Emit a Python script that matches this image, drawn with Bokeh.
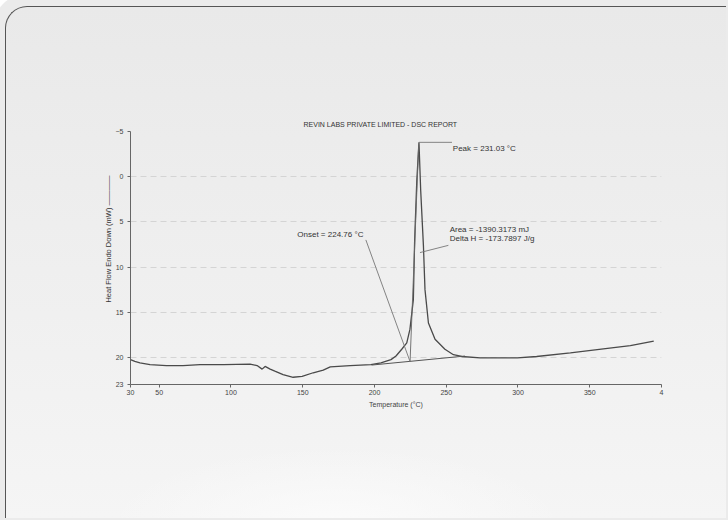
from bokeh.plotting import figure
from bokeh.models import Range1d, Label, FixedTicker, Title
from bokeh.embed import file_html
from bokeh.resources import INLINE

# ---- data ----
temp = [30, 33, 36.6, 43.6, 55, 66.6, 78.5, 95, 113.3, 118.2, 121.7, 123.8, 127.3, 131,
        136.3, 143.3, 149.6, 157.3, 164.3, 169.2, 183.1, 197.5, 204.5, 211.5, 215, 219,
        222.5, 224.7, 227.1, 228, 229.5, 231.0, 232.2, 234.1, 235.2, 237.6, 242.2, 249.1,
        255, 260.8, 273.7, 299.5, 313, 336.5, 359.5, 378.3, 394.6]
heat_flow = [20.25, 20.45, 20.6, 20.8, 20.9, 20.9, 20.8, 20.8, 20.75, 20.9, 21.3, 21.0, 21.3, 21.55,
             21.9, 22.2, 22.1, 21.7, 21.4, 21.05, 20.9, 20.8, 20.6, 20.25, 19.85, 19.1,
             18.4, 16.9, 13.6, 7.0, 0.4, -3.8, 1.5, 7.6, 12.5, 16.2, 18.0, 19.1,
             19.7, 19.9, 20.05, 20.05, 19.9, 19.5, 19.05, 18.7, 18.2]

baseline_t = [198, 263]
baseline_v = [20.85, 19.85]
onset_tangent_t = [224.8, 230.8]
onset_tangent_v = [20.47, -3.5]
onset_leader_t = [194, 224.8]
onset_leader_v = [7.0, 20.47]
peak_leader_t = [231.0, 254]
peak_leader_v = [-3.8, -3.8]
area_leader_t = [231.7, 251.5]
area_leader_v = [8.4, 7.6]

x_ticks = [30, 50, 100, 150, 200, 250, 300, 350, 400]
y_ticks = [-5, 0, 5, 10, 15, 20, 23]

title_text = "REVIN LABS PRIVATE LIMITED - DSC REPORT"
onset_text = "Onset = 224.76 \u00b0C"
peak_text = "Peak = 231.03 \u00b0C"
area_text = "Area = -1390.3173 mJ"
deltah_text = "Delta H = -173.7897 J/g"
y_label = "Heat Flow Endo Down (mW) \u2014\u2014\u2014\u2014"
x_label = "Temperature (\u00b0C)"

FONT = "Liberation Sans"
INK = "#4a4a4a"
TXT = "#333333"

p = figure(width=721, height=512, output_backend="svg", toolbar_location=None,
           x_range=Range1d(30, 400), y_range=Range1d(23, -5),
           min_border_left=124, min_border_right=66, min_border_top=124, min_border_bottom=135)
p.outline_line_color = None
p.border_fill_color = None
p.background_fill_color = None
p.styles = {
    "margin-left": "5px",
    "margin-top": "6px",
    "border-top": "1.5px solid #555555",
    "border-left": "1.5px solid #555555",
    "border-top-left-radius": "22px",
    "background": "radial-gradient(ellipse 230px 80px at 330px 520px, #fbfbfb, rgba(250,250,250,0)), "
                  "linear-gradient(#e9e9e9, #f0f0f0 60%, #f5f5f5)",
    "box-shadow": "0 0 0 12px #ebebeb",
}

# title
p.title.text = title_text
p.title.align = "left"
p.title.offset = 173
p.title.standoff = 7
p.title.text_font = FONT
p.title.text_font_size = "7px"
p.title.text_font_style = "normal"
p.title.text_color = TXT

# axes
p.xaxis.ticker = FixedTicker(ticks=x_ticks)
p.yaxis.ticker = FixedTicker(ticks=y_ticks)
p.xaxis.major_label_overrides = {400: "4"}
for ax in (p.xaxis, p.yaxis):
    ax.axis_line_color = "#666666"
    ax.major_tick_line_color = "#666666"
    ax.major_tick_out = 3
    ax.major_tick_in = 0
    ax.minor_tick_line_color = None
    ax.major_label_text_font = FONT
    ax.major_label_text_font_size = "7px"
    ax.major_label_text_color = "#444444"
p.xaxis.major_label_standoff = 2
p.yaxis.major_label_standoff = 4
p.xaxis.axis_label = x_label
p.xaxis.axis_label_text_font = FONT
p.xaxis.axis_label_text_font_size = "7px"
p.xaxis.axis_label_text_font_style = "normal"
p.xaxis.axis_label_text_color = "#444444"
p.xaxis.axis_label_standoff = 3

# y axis label as a side title (lets it sit above centre, as in the scan)
p.add_layout(Title(text=y_label, align="right", offset=44, standoff=0,
                   text_font=FONT, text_font_size="7.5px", text_font_style="normal",
                   text_color=TXT), "left")

p.xgrid.grid_line_color = None
p.ygrid.grid_line_color = "#d4d4d4"
p.ygrid.grid_line_dash = "6 4"
p.ygrid.grid_line_width = 1

# curve and construction lines
p.line(temp, heat_flow, line_color=INK, line_width=1.3)
p.line(baseline_t, baseline_v, line_color="#555555", line_width=1.0)
p.line(onset_tangent_t, onset_tangent_v, line_color="#666666", line_width=0.9)
p.line(onset_leader_t, onset_leader_v, line_color="#777777", line_width=0.9)
p.line(peak_leader_t, peak_leader_v, line_color="#777777", line_width=0.9)
p.line(area_leader_t, area_leader_v, line_color="#777777", line_width=0.9)

def lab(x, y, text, size="8px", align="left"):
    p.add_layout(Label(x=x, y=y, text=text, text_font=FONT, text_font_size=size,
                       text_color=TXT, text_align=align, text_baseline="middle"))

lab(192.3, 6.4, onset_text, align="right")
lab(254.6, -3.1, peak_text)
lab(252.4, 5.9, area_text)
lab(252.4, 6.8, deltah_text)

open("out.html", "w").write(file_html(p, INLINE))
